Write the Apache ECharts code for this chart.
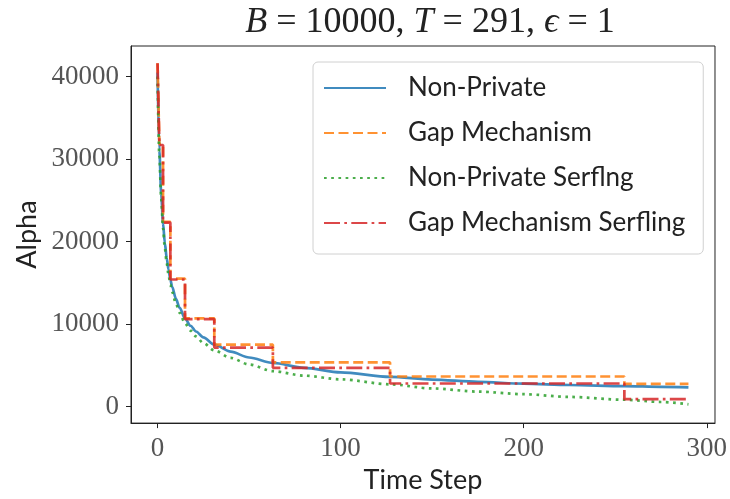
<!DOCTYPE html>
<html>
<head>
<meta charset="utf-8">
<script src="https://cdn.jsdelivr.net/npm/echarts@6/dist/echarts.min.js"></script>
<style>
  html, body { margin: 0; padding: 0; background: #fff; }
  #main { width: 730px; height: 499px; }
</style>
</head>
<body>
<div id="main"></div>
<script>
var curveSteps = [0, 1, 2, 3, 4, 5, 6, 7, 8, 10, 12, 15, 18, 21, 25, 31, 40, 50, 63, 80, 100, 127, 150, 175, 200, 225, 255, 275, 290];
var nonPrivate = [40500, 31000, 25800, 22200, 19800, 18000, 16600, 15400, 14500, 13100, 12000, 10700, 9800, 9100, 8400, 7500, 6650, 5950, 5300, 4700, 4150, 3600, 3280, 3000, 2780, 2620, 2480, 2400, 2340];
var nonPrivateSerfling = [40000, 30300, 25200, 21600, 19200, 17400, 16000, 14800, 13900, 12500, 11400, 10100, 9200, 8500, 7700, 6800, 5900, 5100, 4300, 3750, 3300, 2700, 2200, 1820, 1500, 1170, 830, 560, 280];

// gap mechanism: value changes at these steps
var gapSteps = [0, 1, 3, 7, 15, 31, 63, 127, 255, 290];
var gapMechanism = [41600, 31800, 22400, 15500, 10700, 7500, 5350, 3650, 2750, 2750];
var gapMechanismSerfling = [41600, 31700, 22300, 15400, 10600, 7150, 4700, 2800, 900, 900];

var xTicks = [0, 100, 200, 300];
var yTicks = [0, 10000, 20000, 30000, 40000];

function pairs(xs, ys) {
    var out = [];
    for (var i = 0; i < xs.length; i++) {
        out.push([xs[i], ys[i]]);
    }
    return out;
}

var chart = echarts.init(document.getElementById('main'));

var tickLabel = {
    fontFamily: 'Liberation Serif',
    fontSize: 27,
    color: '#555',
    formatter: function (v) { return String(v); }
};

var option = {
    animation: false,
    backgroundColor: '#fff',
    title: {
        text: '{i|B} = 10000, {i|T} = 291, {i|ϵ} = 1',
        left: 425,
        top: 0,
        textAlign: 'center',
        textStyle: {
            fontFamily: 'Liberation Serif',
            fontWeight: 'normal',
            fontSize: 36,
            color: '#222',
            rich: {
                i: { fontFamily: 'Liberation Serif', fontStyle: 'italic', fontSize: 36, color: '#222' }
            }
        }
    },
    legend: {
        orient: 'vertical',
        left: 313,
        top: 62,
        padding: [13, 18, 18, 10],
        itemGap: 19,
        itemWidth: 62,
        itemHeight: 20,
        backgroundColor: 'rgba(255,255,255,0.8)',
        borderColor: '#d0d0d0',
        borderWidth: 1,
        borderRadius: 5,
        itemStyle: { opacity: 0 },
        textStyle: {
            fontFamily: 'Lato',
            fontSize: 26,
            color: '#222',
            padding: [0, 0, 0, 17]
        },
        data: ['Non-Private', 'Gap Mechanism', 'Non-Private Serflng', 'Gap Mechanism Serfling']
    },
    grid: {
        left: 131,
        right: 10,
        top: 46,
        bottom: 73,
        show: true,
        borderColor: '#222',
        borderWidth: 1
    },
    xAxis: {
        type: 'value',
        min: -14.5,
        max: 304.5,
        name: 'Time Step',
        nameLocation: 'middle',
        nameGap: 40,
        nameTextStyle: { fontFamily: 'Lato', fontSize: 27, color: '#222' },
        axisLine: { show: true, onZero: false, lineStyle: { color: '#222', width: 1 } },
        axisTick: { show: true, length: 5, lineStyle: { color: '#222' }, customValues: xTicks },
        axisLabel: Object.assign({ margin: 12, customValues: xTicks }, tickLabel),
        splitLine: { show: false }
    },
    yAxis: {
        type: 'value',
        min: -2000,
        max: 43700,
        name: 'Alpha',
        nameLocation: 'middle',
        nameGap: 85,
        nameTextStyle: { fontFamily: 'Lato', fontSize: 27, color: '#222' },
        axisLine: { show: true, onZero: false, lineStyle: { color: '#222', width: 1 } },
        axisTick: { show: true, length: 5, lineStyle: { color: '#222' }, customValues: yTicks },
        axisLabel: Object.assign({ margin: 12, customValues: yTicks }, tickLabel),
        splitLine: { show: false }
    },
    series: [
        {
            name: 'Non-Private',
            type: 'line',
            symbol: 'none',
            smooth: 0.3,
            smoothMonotone: 'x',
            data: pairs(curveSteps, nonPrivate),
            lineStyle: { color: '#1f77b4', width: 2.7, opacity: 0.85 },
            itemStyle: { color: '#1f77b4' }
        },
        {
            name: 'Gap Mechanism',
            type: 'line',
            symbol: 'none',
            step: 'end',
            data: pairs(gapSteps, gapMechanism),
            lineStyle: { color: '#ff7f0e', width: 2.7, opacity: 0.85, type: [10, 4.5] },
            itemStyle: { color: '#ff7f0e' }
        },
        {
            name: 'Non-Private Serflng',
            type: 'line',
            symbol: 'none',
            smooth: 0.3,
            smoothMonotone: 'x',
            data: pairs(curveSteps, nonPrivateSerfling),
            lineStyle: { color: '#2ca02c', width: 2.7, opacity: 0.85, type: [2.7, 4.5] },
            itemStyle: { color: '#2ca02c' }
        },
        {
            name: 'Gap Mechanism Serfling',
            type: 'line',
            symbol: 'none',
            step: 'end',
            data: pairs(gapSteps, gapMechanismSerfling),
            lineStyle: { color: '#d62728', width: 2.7, opacity: 0.85, type: [16, 4.3, 2.7, 4.3] },
            itemStyle: { color: '#d62728' }
        }
    ]
};

chart.setOption(option);
</script>
</body>
</html>
